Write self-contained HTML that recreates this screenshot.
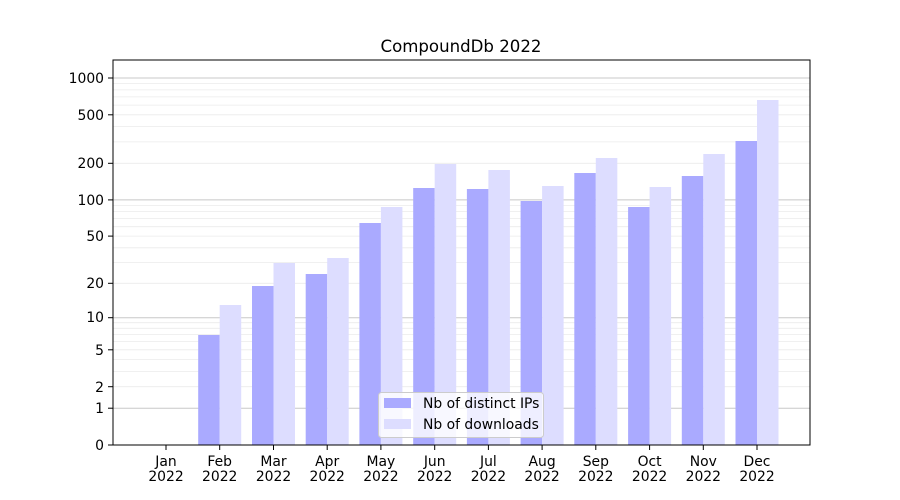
<!DOCTYPE html>
<html><head><meta charset="utf-8"><style>body{margin:0;background:#fff}svg{display:block}text{font-family:"DejaVu Sans","Liberation Sans",sans-serif;font-size:13.9px;fill:#000}</style></head><body>
<svg width="900" height="500" xmlns="http://www.w3.org/2000/svg">
<rect width="900" height="500" fill="#fff"/>
<g stroke="#ebebeb" stroke-width="0.8">
<line x1="113" x2="810" y1="386.7" y2="386.7"/><line x1="113" x2="810" y1="371.4" y2="371.4"/><line x1="113" x2="810" y1="359.5" y2="359.5"/><line x1="113" x2="810" y1="349.8" y2="349.8"/><line x1="113" x2="810" y1="341.6" y2="341.6"/><line x1="113" x2="810" y1="334.6" y2="334.6"/><line x1="113" x2="810" y1="328.3" y2="328.3"/><line x1="113" x2="810" y1="322.7" y2="322.7"/>
<line x1="113" x2="810" y1="283.3" y2="283.3"/><line x1="113" x2="810" y1="262.6" y2="262.6"/><line x1="113" x2="810" y1="247.8" y2="247.8"/><line x1="113" x2="810" y1="236.1" y2="236.1"/><line x1="113" x2="810" y1="226.7" y2="226.7"/><line x1="113" x2="810" y1="218.6" y2="218.6"/><line x1="113" x2="810" y1="211.6" y2="211.6"/><line x1="113" x2="810" y1="205.4" y2="205.4"/>
<line x1="113" x2="810" y1="163.3" y2="163.3"/><line x1="113" x2="810" y1="141.9" y2="141.9"/><line x1="113" x2="810" y1="126.6" y2="126.6"/><line x1="113" x2="810" y1="114.8" y2="114.8"/><line x1="113" x2="810" y1="105.1" y2="105.1"/><line x1="113" x2="810" y1="96.9" y2="96.9"/><line x1="113" x2="810" y1="89.9" y2="89.9"/><line x1="113" x2="810" y1="83.6" y2="83.6"/>
</g>
<g stroke="#c8c8c8" stroke-width="1">
<line x1="113" x2="810" y1="408.2" y2="408.2"/><line x1="113" x2="810" y1="317.7" y2="317.7"/><line x1="113" x2="810" y1="199.9" y2="199.9"/><line x1="113" x2="810" y1="78" y2="78"/>
</g>
<g fill="#aaaaff">
<rect x="198.2" y="335" width="21.5" height="110"/>
<rect x="252" y="286" width="21.5" height="159"/>
<rect x="305.7" y="274" width="21.5" height="171"/>
<rect x="359.4" y="223" width="21.5" height="222"/>
<rect x="413.2" y="188" width="21.5" height="257"/>
<rect x="466.9" y="189" width="21.5" height="256"/>
<rect x="520.6" y="201" width="21.5" height="244"/>
<rect x="574.3" y="173" width="21.5" height="272"/>
<rect x="628.1" y="207" width="21.5" height="238"/>
<rect x="681.8" y="176" width="21.5" height="269"/>
<rect x="735.5" y="141" width="21.5" height="304"/>
</g>
<g fill="#ddddff">
<rect x="219.7" y="305" width="21.5" height="140"/>
<rect x="273.5" y="263" width="21.5" height="182"/>
<rect x="327.2" y="258" width="21.5" height="187"/>
<rect x="380.9" y="207" width="21.5" height="238"/>
<rect x="434.7" y="164" width="21.5" height="281"/>
<rect x="488.4" y="170" width="21.5" height="275"/>
<rect x="542.1" y="186" width="21.5" height="259"/>
<rect x="595.8" y="158" width="21.5" height="287"/>
<rect x="649.6" y="187" width="21.5" height="258"/>
<rect x="703.3" y="154" width="21.5" height="291"/>
<rect x="757" y="100" width="21.5" height="345"/>
</g>
<rect x="113" y="60" width="697" height="385" fill="none" stroke="#000" stroke-width="1"/>
<g stroke="#000" stroke-width="1">
<line x1="108" x2="113" y1="445" y2="445"/><line x1="108" x2="113" y1="408.2" y2="408.2"/><line x1="108" x2="113" y1="386.7" y2="386.7"/><line x1="108" x2="113" y1="349.8" y2="349.8"/><line x1="108" x2="113" y1="317.7" y2="317.7"/><line x1="108" x2="113" y1="283.3" y2="283.3"/><line x1="108" x2="113" y1="236.1" y2="236.1"/><line x1="108" x2="113" y1="199.9" y2="199.9"/><line x1="108" x2="113" y1="163.3" y2="163.3"/><line x1="108" x2="113" y1="114.8" y2="114.8"/><line x1="108" x2="113" y1="78" y2="78"/>
<line x1="166" x2="166" y1="445" y2="450"/><line x1="219.7" x2="219.7" y1="445" y2="450"/><line x1="273.5" x2="273.5" y1="445" y2="450"/><line x1="327.2" x2="327.2" y1="445" y2="450"/><line x1="380.9" x2="380.9" y1="445" y2="450"/><line x1="434.7" x2="434.7" y1="445" y2="450"/><line x1="488.4" x2="488.4" y1="445" y2="450"/><line x1="542.1" x2="542.1" y1="445" y2="450"/><line x1="595.8" x2="595.8" y1="445" y2="450"/><line x1="649.6" x2="649.6" y1="445" y2="450"/><line x1="703.3" x2="703.3" y1="445" y2="450"/><line x1="757" x2="757" y1="445" y2="450"/>
</g>
<g text-anchor="end">
<text x="104" y="450">0</text><text x="104" y="413">1</text><text x="104" y="392">2</text><text x="104" y="355">5</text><text x="104" y="322">10</text><text x="104" y="288">20</text><text x="104" y="241">50</text><text x="104" y="205">100</text><text x="104" y="168">200</text><text x="104" y="120">500</text><text x="104" y="83">1000</text>
</g>
<g text-anchor="middle">
<text x="166" y="466">Jan</text><text x="166" y="481">2022</text>
<text x="219.7" y="466">Feb</text><text x="219.7" y="481">2022</text>
<text x="273.5" y="466">Mar</text><text x="273.5" y="481">2022</text>
<text x="327.2" y="466">Apr</text><text x="327.2" y="481">2022</text>
<text x="380.9" y="466">May</text><text x="380.9" y="481">2022</text>
<text x="434.7" y="466">Jun</text><text x="434.7" y="481">2022</text>
<text x="488.4" y="466">Jul</text><text x="488.4" y="481">2022</text>
<text x="542.1" y="466">Aug</text><text x="542.1" y="481">2022</text>
<text x="595.8" y="466">Sep</text><text x="595.8" y="481">2022</text>
<text x="649.6" y="466">Oct</text><text x="649.6" y="481">2022</text>
<text x="703.3" y="466">Nov</text><text x="703.3" y="481">2022</text>
<text x="757" y="466">Dec</text><text x="757" y="481">2022</text>
<text x="461" y="52" style="font-size:16.6px">CompoundDb 2022</text>
</g>
<rect x="378.5" y="392.5" width="165" height="45" rx="3" fill="#fff" fill-opacity="0.8" stroke="#ccc"/>
<rect x="384" y="398" width="27" height="10" fill="#aaaaff"/>
<rect x="384" y="419" width="27" height="10" fill="#ddddff"/>
<text x="423" y="408">Nb of distinct IPs</text>
<text x="423" y="429">Nb of downloads</text>
</svg>
</body></html>
